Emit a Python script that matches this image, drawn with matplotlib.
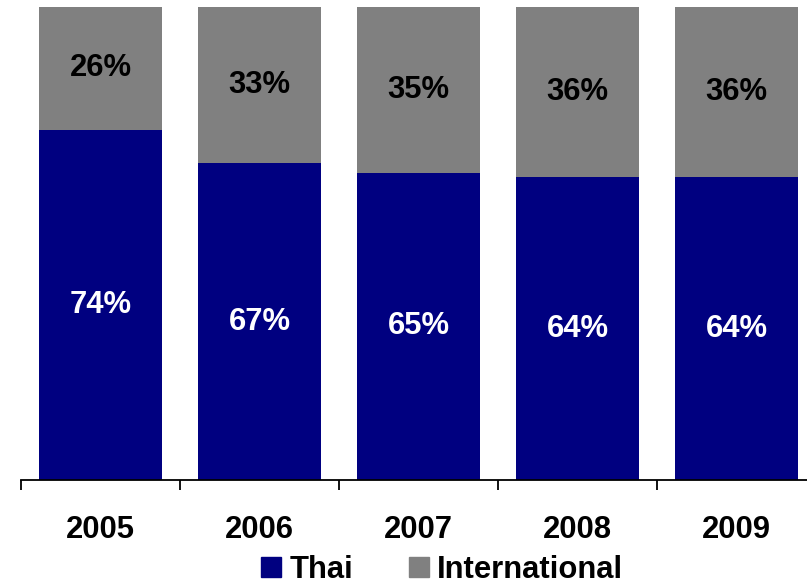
import numpy as np
import matplotlib.pyplot as plt
from matplotlib.patches import Patch

years = ["2005", "2006", "2007", "2008", "2009"]
thai = [74, 67, 65, 64, 64]
international = [26, 33, 35, 36, 36]

plt.rcParams['font.family'] = ['Liberation Sans', 'DejaVu Sans']
plt.rcParams['font.weight'] = 'bold'
FS = 22.3

fig = plt.figure(figsize=(8.07, 5.85), dpi=100)
ax = fig.add_axes([21 / 807, 1 - 480 / 585, 795 / 807, 473 / 585])

x = np.arange(len(years))
w = 0.77
ax.bar(x, thai, width=w, color="#000080", label="Thai")
ax.bar(x, international, width=w, bottom=thai, color="#808080", label="International")

for i in range(len(years)):
    ax.text(x[i], thai[i] / 2, f"{thai[i]}%", ha="center", va="center",
            color="white", fontsize=FS, fontweight="bold")
    ax.text(x[i], thai[i] + international[i] / 2, f"{international[i]}%",
            ha="center", va="center", color="black", fontsize=FS, fontweight="bold")

ax.set_xlim(-0.5, len(years) - 0.5)
ax.set_ylim(0, 100)
for s in ["top", "right", "left"]:
    ax.spines[s].set_visible(False)
ax.spines["bottom"].set_linewidth(1.3)
ax.set_yticks([])

ax.set_xticks(np.arange(len(years) + 1) - 0.5)
ax.set_xticklabels([])
ax.tick_params(axis="x", which="major", length=7.5, width=1.3, direction="out")
ax.set_xticks(x, minor=True)
ax.set_xticklabels(years, minor=True, fontsize=FS, fontweight="bold")
ax.tick_params(axis="x", which="minor", length=0, pad=25)

handles = [Patch(color="#000080"), Patch(color="#808080")]
fig.legend(handles, ["Thai", "International"], loc="center",
           bbox_to_anchor=(442 / 807, 1 - 570 / 585), ncol=2, frameon=False,
           prop={"size": FS, "weight": "bold"}, handlelength=0.65, handleheight=0.65,
           handletextpad=0.25, columnspacing=1.8, borderpad=0, borderaxespad=0)

fig.savefig("out.png", dpi=100)
